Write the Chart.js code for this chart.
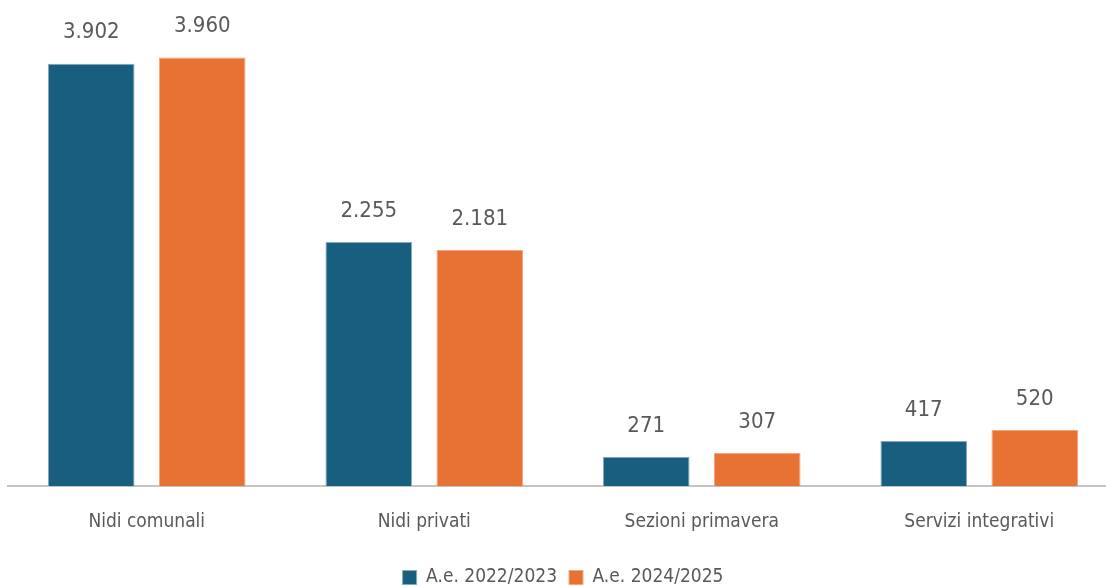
<!DOCTYPE html>
<html lang="it">
<head>
  <meta charset="UTF-8">
  <title>Servizi per l'infanzia</title>
  <style>
    html, body { margin: 0; padding: 0; background: #fff; overflow: hidden; }
    #box { width: 1118px; height: 586px; }
  </style>
</head>
<body>
  <div id="box"><canvas id="grafico"></canvas></div>

  <script src="https://cdn.jsdelivr.net/npm/chart.js"></script>
  <script>
    // dati
    const categorie = ['Nidi comunali', 'Nidi privati', 'Sezioni primavera', 'Servizi integrativi'];
    const anno2023 = [3902, 2255, 271, 417];
    const anno2025 = [3960, 2181, 307, 520];
    const etichette = ['A.e. 2022/2023', 'A.e. 2024/2025'];

    const fontBase = "'Liberation Sans Narrow', 'DejaVu Sans Condensed', 'Roboto', sans-serif";
    const grigio = '#595959';

    function formatta(n) {
      return String(n).replace(/\B(?=(\d{3})+(?!\d))/g, '.');
    }

    // etichette sopra le barre
    const valoriSopra = {
      id: 'valoriSopra',
      afterDatasetsDraw(chart) {
        const ctx = chart.ctx;
        ctx.save();
        ctx.font = '22px ' + fontBase;
        ctx.fillStyle = grigio;
        ctx.textAlign = 'center';
        ctx.textBaseline = 'middle';
        chart.data.datasets.forEach((ds, i) => {
          chart.getDatasetMeta(i).data.forEach((bar, j) => {
            ctx.fillText(formatta(ds.data[j]), bar.x, bar.y - 31);
          });
        });
        ctx.restore();
      }
    };

    new Chart(document.getElementById('grafico'), {
      type: 'bar',
      data: {
        labels: categorie,
        datasets: [
          { label: etichette[0], data: anno2023, backgroundColor: '#175e7f', borderColor: '#8aa9b8', borderWidth: 1 },
          { label: etichette[1], data: anno2025, backgroundColor: '#e87234', borderColor: '#f0a77f', borderWidth: 1 }
        ]
      },
      options: {
        responsive: true,
        maintainAspectRatio: false,
        animation: false,
        categoryPercentage: 0.8,
        barPercentage: 0.78,
        layout: { padding: { left: 8, right: 0, top: 0, bottom: -11 } },
        plugins: {
          tooltip: { enabled: false },
          legend: {
            position: 'bottom',
            labels: {
              color: grigio,
              font: { family: fontBase, size: 19 },
              boxWidth: 14,
              boxHeight: 14,
              padding: 12
            }
          }
        },
        scales: {
          x: {
            grid: { display: false },
            border: { color: '#c4c4c4', width: 2 },
            ticks: { color: grigio, font: { family: fontBase, size: 19 }, padding: 16 },
            afterFit(scale) { scale.height += 7; }
          },
          y: {
            display: false,
            min: 0,
            max: 4490
          }
        }
      },
      plugins: [valoriSopra]
    });
  </script>
</body>
</html>
